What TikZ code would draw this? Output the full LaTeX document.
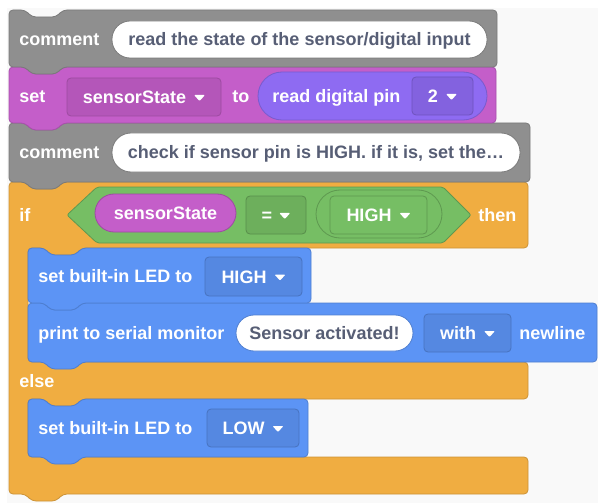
\documentclass[tikz,border=0pt]{standalone}
\usepackage{fontspec}
\setmainfont{Liberation Sans}

\definecolor{canvas}{HTML}{F9F9F9}
\definecolor{notegray}{HTML}{8F8F8F}
\definecolor{varpurple}{HTML}{C45EC9}
\definecolor{pinviolet}{HTML}{8E6BF2}
\definecolor{ctrlorange}{HTML}{F0AD41}
\definecolor{opgreen}{HTML}{76BE64}
\definecolor{ledblue}{HTML}{5C94F5}
\definecolor{slate}{HTML}{575E75}

\newcommand\blkfont{\fontsize{18}{20}\selectfont\bfseries}
\newcommand\caret{\tikz[baseline=0pt]\fill[white,rounded corners=1pt] (0pt,8.5pt) -- (11pt,8.5pt) -- (5.5pt,2.5pt) -- cycle;}

% left, top, right, bottom, look
\newcommand\stackblk[5]{%
  \draw[rounded corners=4,#5] ({#1+8},#2) -- ({#1+16},#2) -- ({#1+23},{#2+7}) -- ({#1+47},{#2+7})
    -- ({#1+54},#2) -- (#3,#2) -- (#3,#4) -- ({#1+54},#4) -- ({#1+47},{#4+7}) -- ({#1+23},{#4+7})
    -- ({#1+16},#4) -- (#1,#4) -- (#1,#2) -- cycle;}

\begin{document}
\begin{tikzpicture}[x=1pt,y=-1pt,line width=0.8pt,
  lbl/.style={text=white,font=\blkfont,inner sep=0,anchor=west,text height=15pt,text depth=2pt},
  field/.style={fill=white,draw=#1,rounded corners=18,text=slate,font=\blkfont,inner sep=0,text height=15pt,text depth=2pt},
  menu/.style 2 args={fill=#1,draw=#2,rounded corners=4,text=white,font=\blkfont,inner sep=0,text height=15pt,text depth=2pt}]
\fill[white] (0,0) rectangle (598,503);
\fill[canvas] (7,8) rectangle (598,503);

% if / else
\draw[fill=ctrlorange,draw=ctrlorange!85!black,rounded corners=4]
  (17,182) -- (25,182) -- (32,189) -- (56,189) -- (63,182) -- (528,182) -- (528,248)
  -- (82,248) -- (75,255) -- (51,255) -- (44,248) -- (28,248) -- (28,362) -- (528,362) -- (528,399)
  -- (82,399) -- (75,406) -- (51,406) -- (44,399) -- (28,399) -- (28,457) -- (528,457) -- (528,494)
  -- (63,494) -- (56,501) -- (32,501) -- (25,494) -- (9,494) -- (9,182) -- cycle;
\node[lbl] (if) at (19,215) {if};
\draw[fill=opgreen,draw=opgreen!80!black,rounded corners=2]
  (67,215) -- (97,187) -- (443,187) -- (471,215) -- (443,243) -- (97,243) -- cycle;
\node[field=varpurple!80!black,fill=varpurple,text=white,minimum width=141,minimum height=38,rounded corners=19] (var) at (165.5,213) {sensorState};
\node[menu={opgreen!92!black}{opgreen!75!black},minimum width=60,minimum height=38] (eq) at (276,215) {=\hspace{7pt}\caret};
\node[field=opgreen!80!black,fill=opgreen,minimum width=126,minimum height=48,rounded corners=24] (lvl) at (379,214) {};
\node[menu={opgreen}{opgreen!80!black},minimum width=97,minimum height=38] (high) at (378.5,215) {HIGH\hspace{8pt}\caret};
\node[lbl] (then) at (478,215) {then};
\node[lbl] (else) at (19,381) {else};

% else branch
\stackblk{28}{399}{308}{457}{fill=ledblue,draw=ledblue!85!black}
\node[lbl] (led2) at (38,428) {set built-in LED to};
\node[menu={ledblue!92!black}{ledblue!78!black},minimum width=92,minimum height=38] (low) at (253,428) {LOW\hspace{8pt}\caret};

% then branch
\stackblk{28}{303}{597}{362}{fill=ledblue,draw=ledblue!85!black}
\node[lbl] (print) at (38,333) {print to serial monitor};
\node[field=ledblue!85!black,minimum width=177,minimum height=36] (msg) at (324.5,333) {Sensor activated!};
\node[menu={ledblue!92!black}{ledblue!78!black},minimum width=87,minimum height=38] (with) at (467.5,333) {with\hspace{8pt}\caret};
\node[lbl] (nl) at (519,333) {newline};
\stackblk{28}{248}{311}{303}{fill=ledblue,draw=ledblue!85!black}
\node[lbl] (led1) at (38,276) {set built-in LED to};
\node[menu={ledblue!92!black}{ledblue!78!black},minimum width=97,minimum height=39] (on) at (253.5,276.5) {HIGH\hspace{8pt}\caret};

% comment before the test
\stackblk{9}{123}{530}{182}{fill=notegray,draw=notegray!85!black}
\node[lbl] (c2) at (19,152.5) {comment};
\node[field=notegray!85!black,minimum width=408,minimum height=39,rounded corners=19] (note2) at (316,152.5) {check if sensor pin is HIGH. if it is, set the…};

% read the pin
\stackblk{9}{67}{496}{123}{fill=varpurple,draw=varpurple!85!black}
\node[lbl] (set) at (19,96) {set};
\node[menu={varpurple!92!black}{varpurple!80!black},minimum width=154,minimum height=38] (name) at (144,97) {sensorState\hspace{8pt}\caret};
\node[lbl] (to) at (232,96) {to};
\node[fill=pinviolet,draw=pinviolet!85!black,rounded corners=24,minimum width=229,minimum height=48,inner sep=0] (read) at (372.5,96) {};
\node[lbl] (readtxt) at (272,96) {read digital pin};
\node[menu={pinviolet!92!black}{pinviolet!78!black},minimum width=61,minimum height=38] (pin) at (442.5,96) {2\hspace{8pt}\caret};

% first comment
\stackblk{9}{10}{497}{67}{fill=notegray,draw=notegray!85!black}
\node[lbl] (c1) at (19,39.5) {comment};
\node[field=notegray!85!black,minimum width=375,minimum height=37] (note1) at (299.5,39.5) {read the state of the sensor/digital input};
\end{tikzpicture}
\end{document}
